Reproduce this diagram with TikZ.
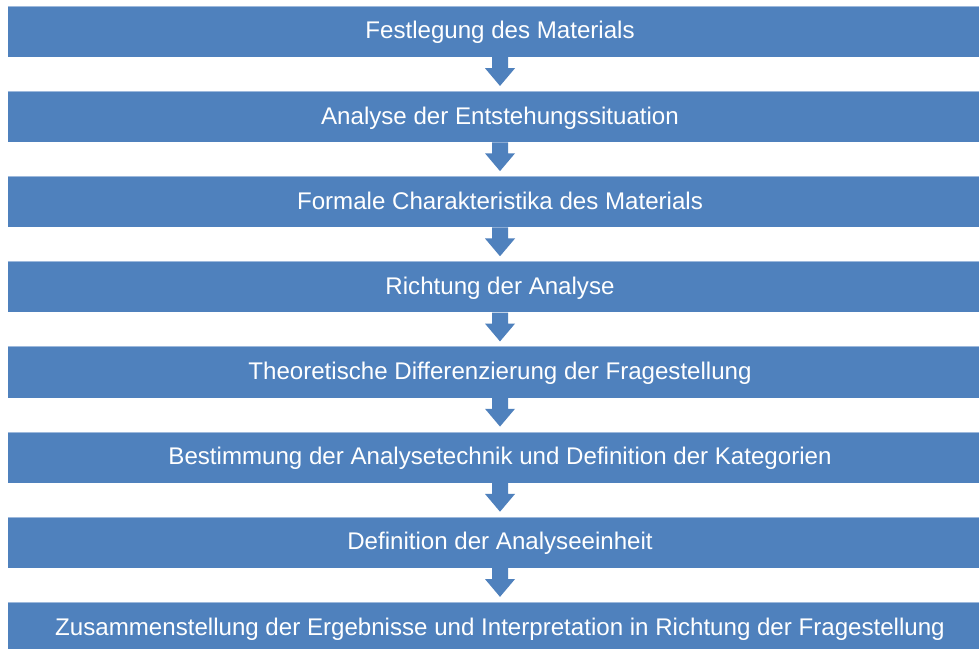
\documentclass[tikz,border=0pt]{standalone}
\usepackage{fontspec}
\setmainfont{Liberation Sans}
\usetikzlibrary{calc}
\definecolor{boxblue}{HTML}{4F81BD}
\definecolor{boxedge}{HTML}{9DB9DC}
\begin{document}
\begin{tikzpicture}[x=1pt,y=1pt,
  stepbox/.style={fill=boxblue, draw=none, inner sep=0pt,
    minimum width=984pt, minimum height=51pt, text=white,
    text height=20pt, text depth=5pt,
    font=\fontsize{24.1}{28}\selectfont},
  flowarrow/.style={fill=boxblue, draw=none}]
\useasboundingbox (0,0) rectangle (979,648);
\clip (0,0) rectangle (979,648);
\fill[white] (0,0) rectangle (979,648);
% process steps, top to bottom
\foreach \i/\t in {
  1/Festlegung des Materials,
  2/Analyse der Entstehungssituation,
  3/Formale Charakteristika des Materials,
  4/Richtung der Analyse,
  5/Theoretische Differenzierung der Fragestellung,
  6/Bestimmung der Analysetechnik und Definition der Kategorien,
  7/Definition der Analyseeinheit,
  8/Zusammenstellung der Ergebnisse und Interpretation in Richtung der Fragestellung}{
  \node[stepbox] (b\i) at (500, {648-31.5-85.15*(\i-1)}) {\t};
  \draw[boxedge, line width=1pt] ([yshift=-0.5pt]b\i.north west) -- ([yshift=-0.5pt]b\i.north east);
}
% block arrows between consecutive steps
\foreach \i [evaluate=\i as \j using int(\i+1)] in {1,...,7}{
  \fill[flowarrow] ($(b\i.south)+(-8,0)$) -- ++(0,-11) -- ++(-7,0)
    -- ($(b\j.north)+(0,5)$)
    -- ($(b\i.south)+(15,-11)$) -- ++(-7,0) -- ++(0,11) -- cycle;
}
\end{tikzpicture}
\end{document}
